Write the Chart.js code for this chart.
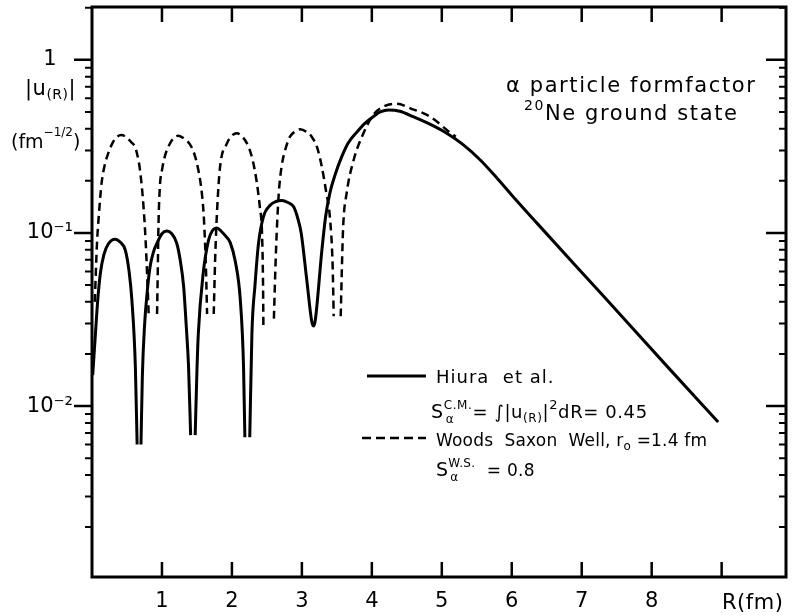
<!DOCTYPE html>
<html>
<head>
<meta charset="utf-8">
<script src="https://cdn.jsdelivr.net/npm/chart.js@4"></script>
<style>
  body { margin: 0; background: #fff; }
</style>
</head>
<body>
<canvas id="chart" width="796" height="616"></canvas>
<script>
// Hiura et al. (solid) - null marks where the curve is cut at a node
const hiuraR = [0.01, 0.03, 0.05, 0.08, 0.12, 0.17, 0.23, 0.33, 0.41, 0.476, 0.53, 0.57, 0.62, 0.645,
    0.67, 0.70, 0.72, 0.75, 0.79, 0.83, 0.88, 0.93, 1.0, 1.07, 1.14, 1.21, 1.26, 1.31, 1.345, 1.38, 1.41,
    1.44, 1.475, 1.5, 1.52, 1.59, 1.666, 1.72, 1.786, 1.85, 1.92, 1.976, 2.05, 2.12, 2.166, 2.185,
    2.22, 2.255, 2.286, 2.33, 2.38, 2.45, 2.55, 2.63, 2.714, 2.8, 2.88, 2.94, 2.99, 3.07, 3.14, 3.165, 3.19,
    3.286, 3.34, 3.4, 3.48, 3.57, 3.66, 3.78, 3.9, 4.02, 4.12, 4.24, 4.4, 4.59, 4.83, 5.07, 5.3, 5.55,
    5.8, 6.02, 6.36, 7.31, 8.26, 8.95];
const hiuraU = [0.0151, 0.02, 0.0264, 0.04, 0.0587, 0.075, 0.086, 0.092, 0.088, 0.0797, 0.06, 0.041, 0.0168, 0.006,
    null, 0.006, 0.015, 0.0287, 0.046, 0.0638, 0.078, 0.0875, 0.099, 0.1027, 0.099, 0.0875, 0.07, 0.049, 0.03, 0.0169, 0.0068,
    null, 0.0068, 0.016, 0.0264, 0.0588, 0.091, 0.103, 0.107, 0.102, 0.095, 0.088, 0.068, 0.041, 0.0169, 0.0066,
    null, 0.0066, 0.0264, 0.05, 0.087, 0.124, 0.145, 0.152, 0.154, 0.15, 0.142, 0.122, 0.10, 0.0535, 0.031, 0.029, 0.031,
    0.0797, 0.125, 0.17, 0.22, 0.276, 0.33, 0.38, 0.43, 0.47, 0.5, 0.514, 0.505, 0.47, 0.425, 0.377, 0.325, 0.264,
    0.205, 0.162, 0.114, 0.0432, 0.0163, 0.0081];

// Woods Saxon well (dashed)
const wsR = [0.04, 0.07, 0.1, 0.137, 0.18, 0.233, 0.3, 0.36, 0.42, 0.49, 0.56, 0.614, 0.65, 0.686, 0.733, 0.766, 0.79, 0.81,
    0.87, 0.93, 0.94, 0.95, 0.97, 1.0, 1.04, 1.1, 1.17, 1.233, 1.3, 1.36, 1.42, 1.47, 1.52, 1.57, 1.6, 1.63, 1.645,
    1.69, 1.74, 1.76, 1.79, 1.83, 1.93, 2.0, 2.07, 2.15, 2.237, 2.3, 2.357, 2.4, 2.43, 2.445, 2.45,
    2.52, 2.6, 2.62, 2.64, 2.67, 2.71, 2.77, 2.83, 2.9, 2.976, 3.06, 3.14, 3.22, 3.286, 3.35, 3.4, 3.44, 3.455,
    3.5, 3.555, 3.575, 3.59, 3.64, 3.74, 3.88, 4.02, 4.166, 4.357, 4.55, 4.83, 5.12, 5.2];
const wsU = [0.04, 0.085, 0.13, 0.194, 0.245, 0.289, 0.335, 0.36, 0.368, 0.357, 0.335, 0.315, 0.28, 0.231, 0.148, 0.091, 0.055, 0.034,
    null, 0.034, 0.06, 0.11, 0.185, 0.23, 0.276, 0.32, 0.355, 0.364, 0.355, 0.34, 0.315, 0.28, 0.231, 0.17, 0.12, 0.06, 0.034,
    null, 0.034, 0.07, 0.14, 0.24, 0.33, 0.365, 0.377, 0.36, 0.315, 0.26, 0.194, 0.14, 0.1, 0.05, 0.028,
    null, 0.032, 0.06, 0.1, 0.17, 0.242, 0.31, 0.36, 0.385, 0.397, 0.385, 0.36, 0.31, 0.24, 0.17, 0.124, 0.064, 0.033,
    null, 0.033, 0.07, 0.109, 0.17, 0.264, 0.377, 0.481, 0.537, 0.557, 0.525, 0.47, 0.38, 0.36];

const xTickValues = [1, 2, 3, 4, 5, 6, 7, 8, 9];
const xTickLabels = ['1', '2', '3', '4', '5', '6', '7', '8', ''];
const yTickValues = [1, 0.1, 0.01];
const yTickLabels = ['1', '10⁻¹', '10⁻²'];

const FONT = 'DejaVu Sans';

function toPoints(xs, ys) {
    return xs.map((x, i) => ({ x: x, y: ys[i] }));
}

// draws a run of text pieces, with sub/superscripts
function richText(ctx, x, y, parts, spacing) {
    ctx.textAlign = 'left';
    ctx.textBaseline = 'alphabetic';
    ctx.letterSpacing = (spacing || 0) + 'px';
    parts.forEach(p => {
        ctx.font = p.s + 'px "' + FONT + '"';
        if (p.sup !== undefined) {
            ctx.fillText(p.sup, x, y - 9);
            ctx.fillText(p.sub, x + 2, y + 5);
            x += Math.max(ctx.measureText(p.sup).width, ctx.measureText(p.sub).width + 2);
        } else {
            ctx.fillText(p.t, x, y + (p.dy || 0));
            x += ctx.measureText(p.t).width;
        }
    });
    ctx.letterSpacing = '0px';
}

const framePlugin = {
    id: 'frame',
    afterDraw(chart) {
        const { ctx, chartArea: a, scales } = chart;
        const xs = scales.x, ys = scales.y;
        ctx.save();
        ctx.strokeStyle = '#000';
        ctx.fillStyle = '#000';

        // log minor / major ticks on left (outside) and right (inside)
        for (let k = -3; k <= 0; k++) {
            for (let m = 1; m <= 9; m++) {
                const v = m * Math.pow(10, k);
                if (v < ys.min || v > ys.max) continue;
                const py = ys.getPixelForValue(v);
                const major = m === 1;
                ctx.lineWidth = major ? 2.5 : 2;
                ctx.beginPath();
                ctx.moveTo(a.left - (major ? 18 : 7), py);
                ctx.lineTo(a.left, py);
                ctx.moveTo(a.right, py);
                ctx.lineTo(a.right - (major ? 20 : 7), py);
                ctx.stroke();
            }
        }
        // x ticks, inward on top and bottom
        ctx.lineWidth = 2.5;
        xTickValues.forEach(v => {
            const px = xs.getPixelForValue(v);
            ctx.beginPath();
            ctx.moveTo(px, a.top);
            ctx.lineTo(px, a.top + 15);
            ctx.moveTo(px, a.bottom);
            ctx.lineTo(px, a.bottom - 15);
            ctx.stroke();
        });

        ctx.lineWidth = 3;
        ctx.strokeRect(a.left, a.top, a.right - a.left, a.bottom - a.top);

        // axis labels
        richText(ctx, 722, 609, [{ t: 'R(fm)', s: 21 }], 0.5);
        richText(ctx, 25, 95, [{ t: '|u', s: 21 }, { t: '(R)', s: 14, dy: 4 }, { t: '|', s: 21 }], 0.5);
        richText(ctx, 11, 148, [{ t: '(fm', s: 19 }, { t: '−1/2', s: 12, dy: -12 }, { t: ')', s: 19 }], 0);

        // title text
        richText(ctx, 506, 92, [{ t: 'α particle formfactor', s: 21 }], 1.6);
        richText(ctx, 524, 120, [{ t: '20', s: 14, dy: -10 }, { t: 'Ne ground state', s: 21 }], 1.6);

        // legend
        ctx.lineWidth = 3;
        ctx.beginPath();
        ctx.moveTo(367, 376);
        ctx.lineTo(426, 376);
        ctx.stroke();
        ctx.lineWidth = 2.5;
        ctx.setLineDash([9, 5]);
        ctx.beginPath();
        ctx.moveTo(362, 438);
        ctx.lineTo(426, 438);
        ctx.stroke();
        ctx.setLineDash([]);

        richText(ctx, 436, 383, [{ t: 'Hiura  et al.', s: 18 }], 1);
        richText(ctx, 431, 418, [{ t: 'S', s: 19 }, { sup: 'C.M.', sub: 'α', s: 12 },
            { t: '= ∫|u', s: 18 }, { t: '(R)', s: 12, dy: 4 }, { t: '|', s: 18 },
            { t: '2', s: 13, dy: -9 }, { t: 'dR= 0.45', s: 18 }], 0.6);
        richText(ctx, 436, 446, [{ t: 'Woods  Saxon  Well, r', s: 17 }, { t: 'o', s: 12, dy: 4 },
            { t: ' =1.4 fm', s: 17 }], 0.2);
        richText(ctx, 436, 476, [{ t: 'S', s: 19 }, { sup: 'W.S.', sub: 'α', s: 12 }, { t: '  = 0.8', s: 17 }], 0.3);
        ctx.restore();
    }
};

new Chart(document.getElementById('chart'), {
    type: 'line',
    data: {
        datasets: [
            {
                label: 'Hiura et al.',
                data: toPoints(hiuraR, hiuraU),
                borderColor: '#000',
                borderWidth: 3,
                pointRadius: 0,
                cubicInterpolationMode: 'monotone',
                spanGaps: false
            },
            {
                label: 'Woods Saxon Well',
                data: toPoints(wsR, wsU),
                borderColor: '#000',
                borderWidth: 2.5,
                borderDash: [8, 5],
                pointRadius: 0,
                cubicInterpolationMode: 'monotone',
                spanGaps: false
            }
        ]
    },
    options: {
        responsive: false,
        animation: false,
        layout: { padding: { top: 7, right: 10, left: 0, bottom: 0 } },
        plugins: { legend: { display: false }, tooltip: { enabled: false } },
        scales: {
            x: {
                type: 'linear',
                min: 0,
                max: 9.92,
                grid: { display: false, drawTicks: false },
                border: { display: false },
                afterBuildTicks: s => { s.ticks = xTickValues.map(v => ({ value: v })); },
                afterFit: s => { s.height = 39; s.paddingLeft = 0; s.paddingRight = 0; },
                ticks: {
                    autoSkip: false,
                    maxRotation: 0,
                    padding: 12,
                    color: '#000',
                    font: { family: FONT, size: 21 },
                    callback: v => xTickLabels[xTickValues.indexOf(v)]
                }
            },
            y: {
                type: 'logarithmic',
                min: 0.00103,
                max: 2.02,
                grid: { display: false, drawTicks: false },
                border: { display: false },
                afterBuildTicks: s => { s.ticks = yTickValues.map(v => ({ value: v })); },
                afterFit: s => { s.width = 92; s.paddingTop = 0; s.paddingBottom = 0; },
                ticks: {
                    autoSkip: false,
                    padding: 19,
                    crossAlign: 'center',
                    color: '#000',
                    font: { family: FONT, size: 21 },
                    callback: v => yTickLabels[yTickValues.indexOf(v)]
                }
            }
        }
    },
    plugins: [framePlugin]
});
</script>
</body>
</html>
